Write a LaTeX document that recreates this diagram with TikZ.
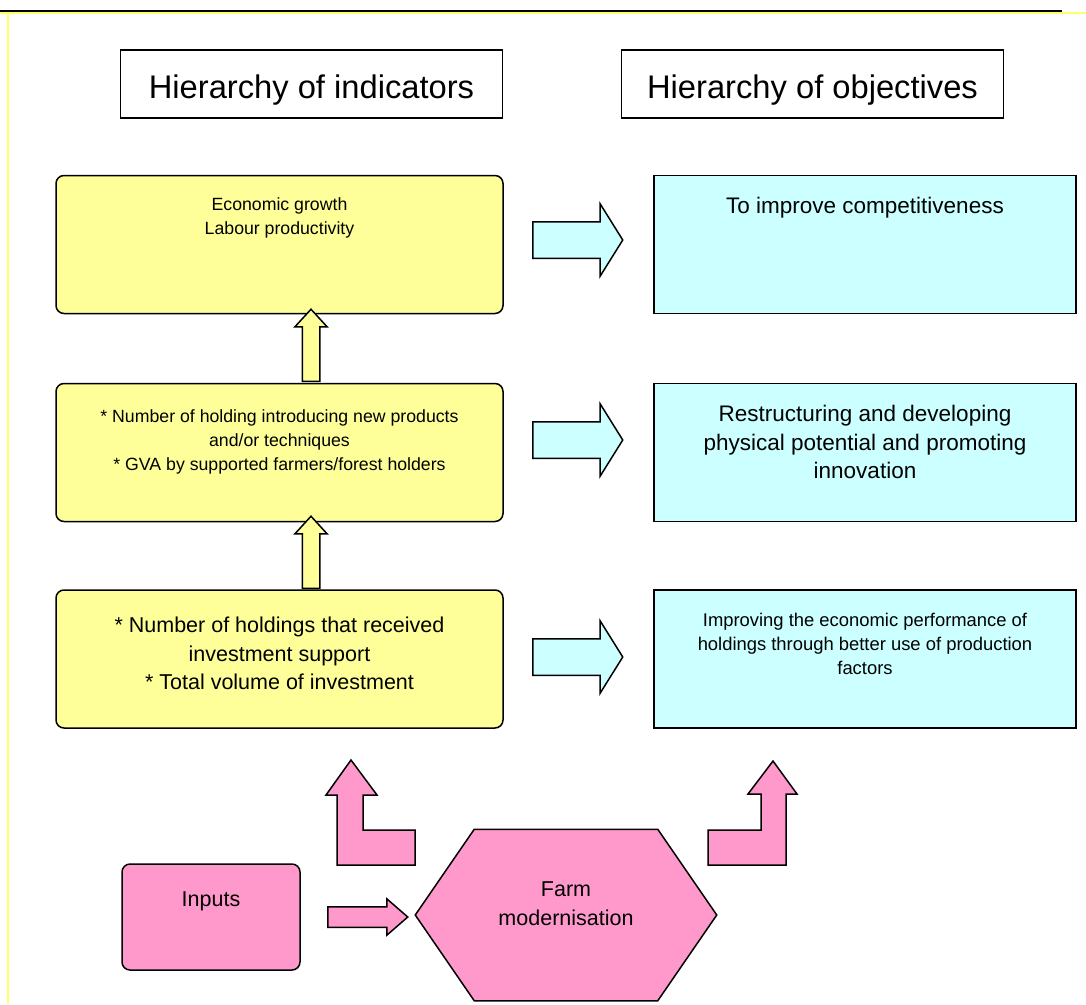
\documentclass[tikz,border=0pt]{standalone}
\usepackage{fontspec}
\setmainfont{Liberation Sans}
\usetikzlibrary{shapes.arrows,calc}

\definecolor{indfill}{HTML}{FFFF99}
\definecolor{objfill}{HTML}{CCFFFF}
\definecolor{pinkfill}{HTML}{FF99CC}
\definecolor{pageyellow}{HTML}{FFFF66}

\tikzset{
  headbox/.style={draw, rectangle, fill=white, minimum width=382, minimum height=68, text height=36, font=\fontsize{32.7}{38}\selectfont},
  indbox/.style={draw, rectangle, rounded corners=8, fill=indfill, minimum width=447, minimum height=138},
  objbox/.style={draw, rectangle, fill=objfill, minimum width=422, minimum height=138},
  indsmall/.style={font=\fontsize{17.7}{24}\selectfont, align=center, inner sep=0},
  objsmall/.style={font=\fontsize{18.4}{24}\selectfont, align=center, inner sep=0},
  midtxt/.style={font=\fontsize{21.5}{28.5}\selectfont, align=center, inner sep=0},
  objmid/.style={font=\fontsize{22.5}{28.5}\selectfont, align=center, inner sep=0},
  rarrow/.style={single arrow, draw, fill=objfill, minimum height=90, inner sep=17.5, single arrow head extend=18, single arrow tip angle=116, anchor=tail},
  uparrow/.style={single arrow, draw, fill=indfill, minimum height=72, inner sep=8, single arrow head extend=7.5, single arrow tip angle=85, shape border rotate=90, anchor=tail},
  pinkarrow/.style={single arrow, draw, fill=pinkfill, minimum height=80, inner sep=9.5, single arrow head extend=8, single arrow tip angle=82, anchor=tail}
}

\begin{document}
\begin{tikzpicture}[x=1pt, y=-1pt, line width=1.5pt]
        \useasboundingbox (0,0) rectangle (1086,1004);

        % page frame
        \draw[pageyellow, line width=1.5pt] (0,13) -- (1086,13);
        \draw[pageyellow, line width=1.5pt] (8,13) -- (8,1004);
        \draw[line width=2pt] (0,10.5) -- (1062,10.5);

        % headings
        \node[headbox] (indhead) at (311.5,84) {Hierarchy of indicators};
        \node[headbox] (objhead) at (812.5,84) {Hierarchy of objectives};

        % indicators
        \node[indbox, label={[indsmall, anchor=north, yshift=-22]north:{Economic growth\\Labour productivity}}] (impact) at (279.5,244.5) {};
        \node[indbox, label={[indsmall, anchor=north, yshift=-26]north:{* Number of holding introducing new products\\and/or techniques\\* GVA by supported farmers/forest holders}}] (result) at (279.5,452.5) {};
        \node[indbox, label={[midtxt, anchor=north, yshift=-27]north:{* Number of holdings that received\\investment support\\* Total volume of investment}}] (output) at (279.5,659) {};

        % objectives
        \node[objbox, label={[objmid, anchor=north, yshift=-22]north:{To improve competitiveness}}] (general) at (865,244.5) {};
        \node[objbox, label={[objmid, anchor=north, yshift=-22]north:{Restructuring and developing\\physical potential and promoting\\innovation}}] (specific) at (865,452.5) {};
        \node[objbox, label={[objsmall, anchor=north, yshift=-23]north:{Improving the economic performance of\\holdings through better use of production\\factors}}] (operational) at (865,659) {};

        % block arrows
        \node[rarrow] (toGeneral) at (532,240) {};
        \node[rarrow] (toSpecific) at (532,440) {};
        \node[rarrow] (toOperational) at (532,657) {};
        \node[uparrow] (upImpact) at (311,382) {};
        \node[uparrow] (upResult) at (311,589) {};

        % inputs and measure
        \node[draw, rectangle, rounded corners=8, fill=pinkfill, minimum width=178, minimum height=106, label={[midtxt, anchor=north, yshift=-28]north:{Inputs}}] (inputs) at (211,917) {};
        \node[pinkarrow] (toFarm) at (327,917) {};

        \node[minimum width=182, minimum height=170, inner sep=0] (farm) at (566,915) {};
        \draw[fill=pinkfill] (farm.north west) -- (farm.north east) -- ($(farm.east)+(59,0)$) -- (farm.south east) -- (farm.south west) -- ($(farm.west)+(-59,0)$) -- cycle;
        \node[midtxt, anchor=north] (farmtxt) at ($(farm.north)+(0,52)$) {Farm\\modernisation};

        % bent arrows up to the outputs and objectives
        \draw[fill=pinkfill] (351,760) -- (377,795) -- (363,795) -- (363,830) -- (415,830) -- (415,865) -- (337,865) -- (337,795) -- (326,795) -- cycle;
        \draw[fill=pinkfill] (773,761) -- (797,794) -- (786,794) -- (786,865) -- (708,865) -- (708,830) -- (761,830) -- (761,794) -- (748,794) -- cycle;
    \end{tikzpicture}
\end{document}
